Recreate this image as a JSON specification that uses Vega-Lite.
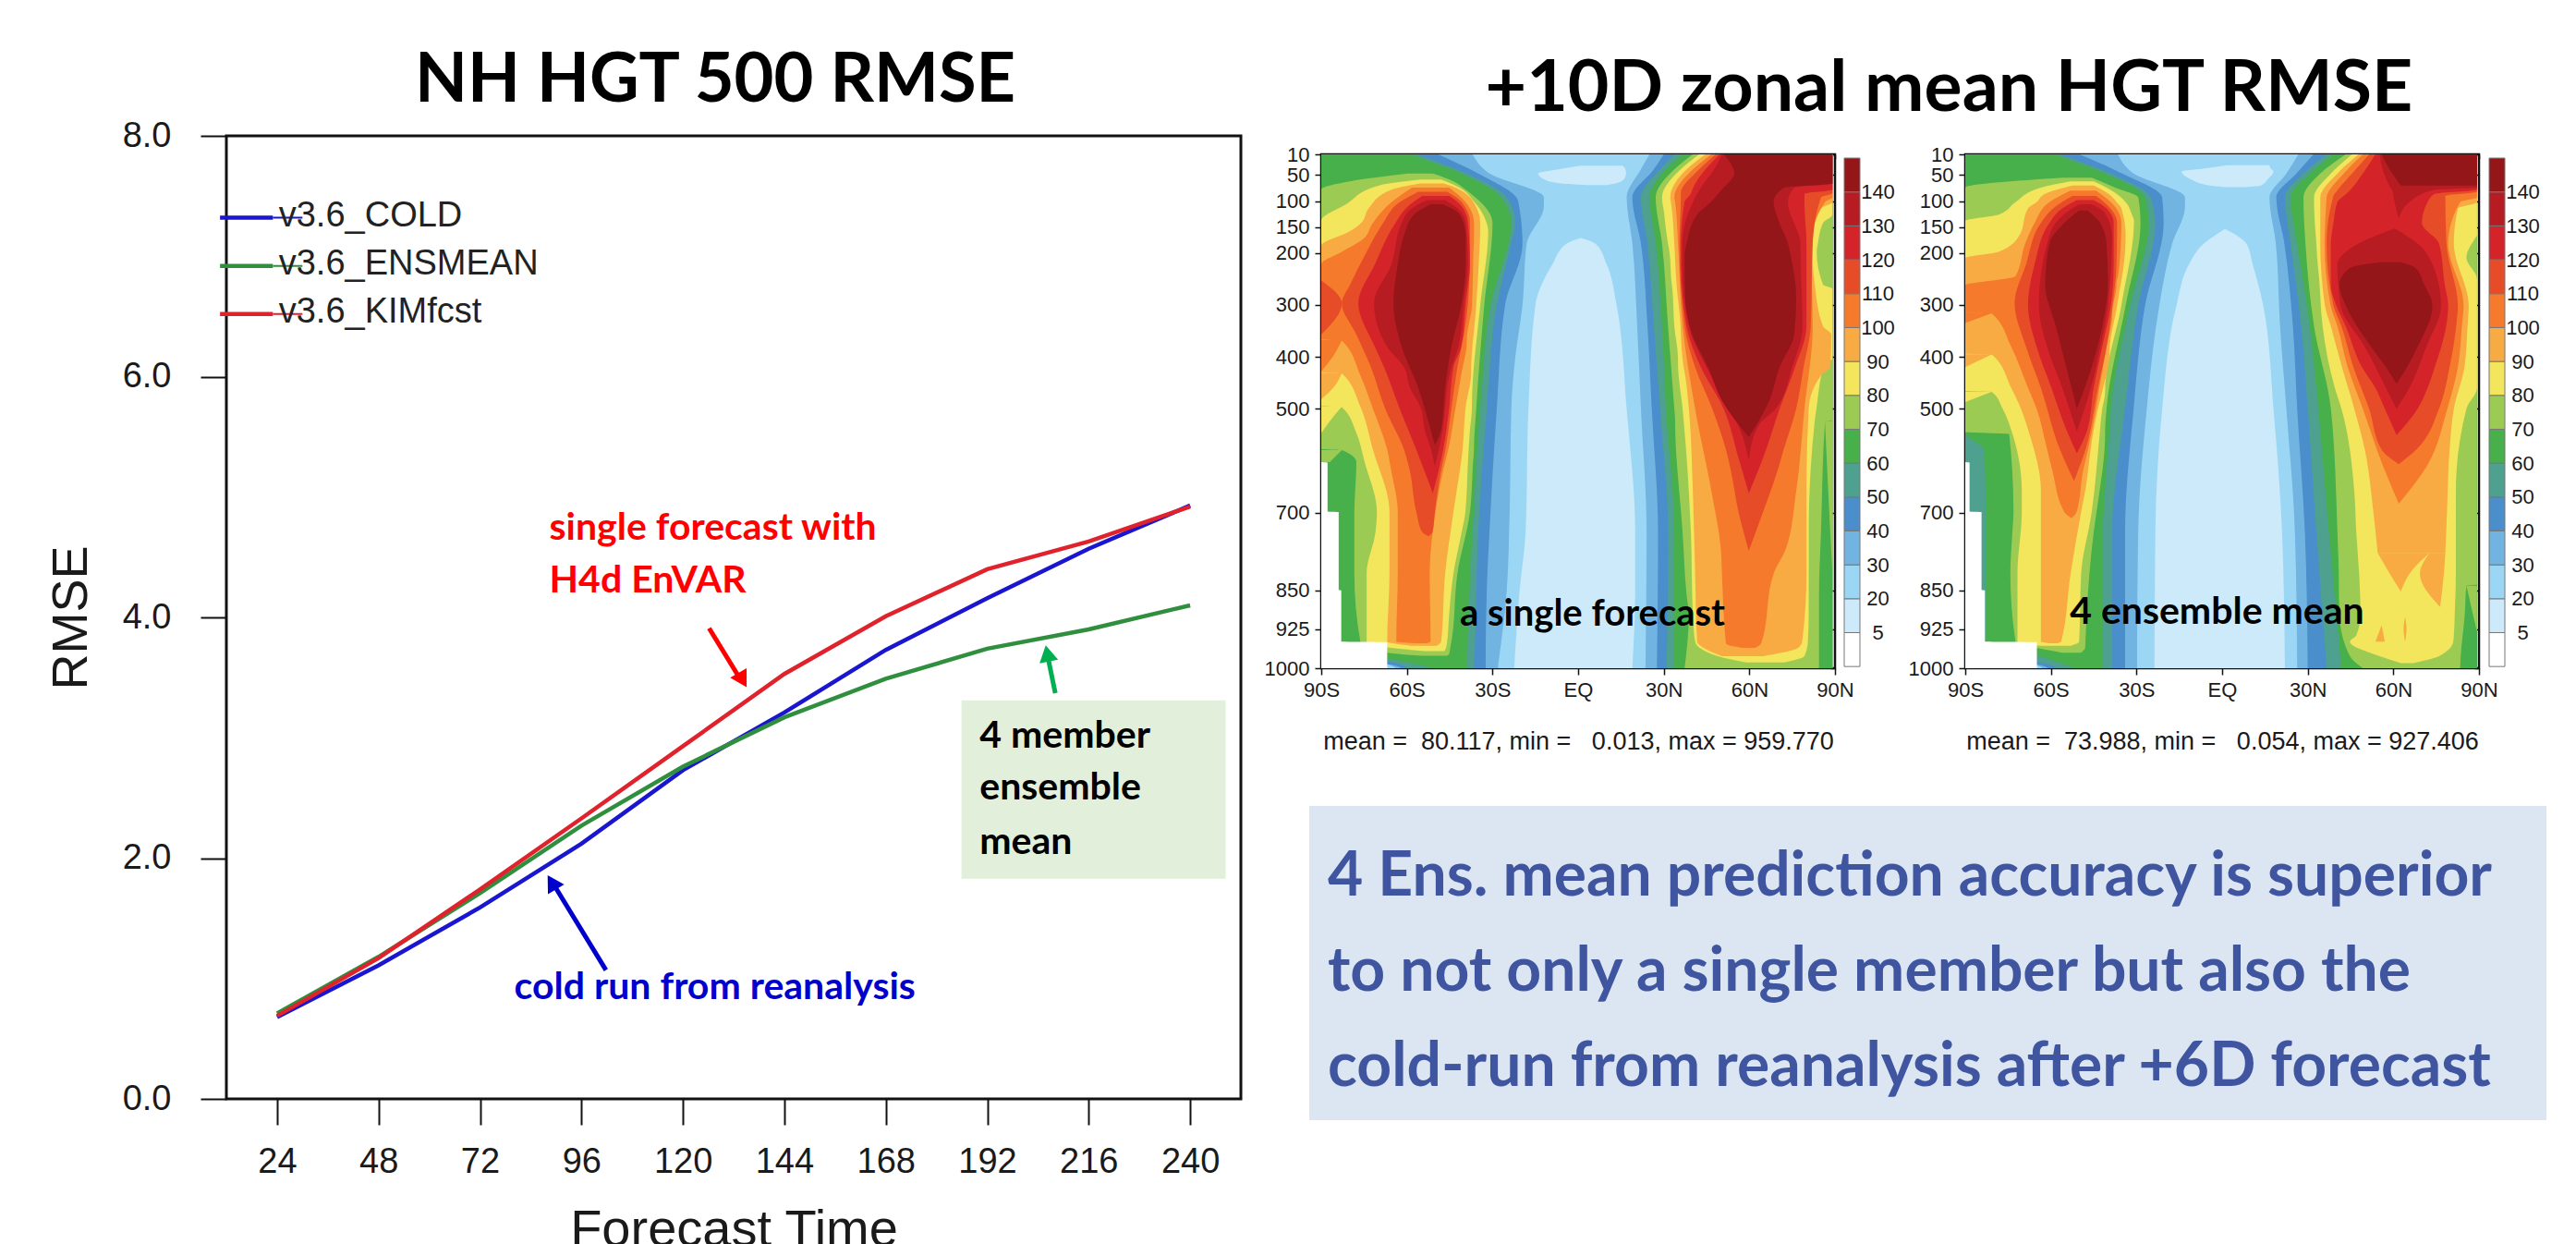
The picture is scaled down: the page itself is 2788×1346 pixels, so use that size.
{"$schema":"https://vega.github.io/schema/vega-lite/v6.json","autosize":{"type":"pad"},"padding":{"left":48,"top":49,"right":0,"bottom":0},"background":"white","config":{"view":{"stroke":null},"font":"Liberation Sans","axis":{"grid":false,"domain":false,"labelFlush":false,"labelOverlap":false,"labelColor":"#1a1a1a","tickColor":"#111","titleColor":"#1a1a1a","titleFontWeight":"normal"}},
"datasets":{
"rmse":[{"series":"v3.6_COLD","hour":24,"rmse":0.68},{"series":"v3.6_COLD","hour":48,"rmse":1.11},{"series":"v3.6_COLD","hour":72,"rmse":1.59},{"series":"v3.6_COLD","hour":96,"rmse":2.12},{"series":"v3.6_COLD","hour":120,"rmse":2.73},{"series":"v3.6_COLD","hour":144,"rmse":3.21},{"series":"v3.6_COLD","hour":168,"rmse":3.73},{"series":"v3.6_COLD","hour":192,"rmse":4.16},{"series":"v3.6_COLD","hour":216,"rmse":4.57},{"series":"v3.6_COLD","hour":240,"rmse":4.93},
{"series":"v3.6_ENSMEAN","hour":24,"rmse":0.71},{"series":"v3.6_ENSMEAN","hour":48,"rmse":1.18},{"series":"v3.6_ENSMEAN","hour":72,"rmse":1.71},{"series":"v3.6_ENSMEAN","hour":96,"rmse":2.27},{"series":"v3.6_ENSMEAN","hour":120,"rmse":2.76},{"series":"v3.6_ENSMEAN","hour":144,"rmse":3.17},{"series":"v3.6_ENSMEAN","hour":168,"rmse":3.49},{"series":"v3.6_ENSMEAN","hour":192,"rmse":3.74},{"series":"v3.6_ENSMEAN","hour":216,"rmse":3.9},{"series":"v3.6_ENSMEAN","hour":240,"rmse":4.1},
{"series":"v3.6_KIMfcst","hour":24,"rmse":0.69},{"series":"v3.6_KIMfcst","hour":48,"rmse":1.17},{"series":"v3.6_KIMfcst","hour":72,"rmse":1.74},{"series":"v3.6_KIMfcst","hour":96,"rmse":2.33},{"series":"v3.6_KIMfcst","hour":120,"rmse":2.93},{"series":"v3.6_KIMfcst","hour":144,"rmse":3.53},{"series":"v3.6_KIMfcst","hour":168,"rmse":4.01},{"series":"v3.6_KIMfcst","hour":192,"rmse":4.4},{"series":"v3.6_KIMfcst","hour":216,"rmse":4.63},{"series":"v3.6_KIMfcst","hour":240,"rmse":4.92}],
"legendRows":[{"series":"v3.6_COLD","hour":10.5,"hour2":23,"rmse":7.32},{"series":"v3.6_ENSMEAN","hour":10.5,"hour2":23,"rmse":6.92},{"series":"v3.6_KIMfcst","hour":10.5,"hour2":23,"rmse":6.52}],
"legendThin":[{"series":"v3.6_COLD","hour":23,"hour2":30,"rmse":7.32},{"series":"v3.6_ENSMEAN","hour":23,"hour2":30,"rmse":6.92},{"series":"v3.6_KIMfcst","hour":23,"hour2":30,"rmse":6.52}],
"legendText":[{"series":"v3.6_COLD","hour":24.4,"rmse":7.33,"label":"v3.6_COLD"},{"series":"v3.6_ENSMEAN","hour":24.4,"rmse":6.93,"label":"v3.6_ENSMEAN"},{"series":"v3.6_KIMfcst","hour":24.4,"rmse":6.53,"label":"v3.6_KIMfcst"}],
"arrows":[{"series":"kim note","hour":126.2,"rmse":3.91,"hour2":133,"rmse2":3.52,"tipHour":134.1,"tipRmse":3.48,"heading":150},{"series":"ensmean note","hour":208.1,"rmse":3.37,"hour2":206.4,"rmse2":3.66,"tipHour":206.2,"tipRmse":3.7,"heading":349},{"series":"cold note","hour":101.8,"rmse":1.07,"hour2":89.8,"rmse2":1.76,"tipHour":89,"tipRmse":1.8,"heading":329}],
"noteBox":[{"hour":185.9,"hour2":248.4,"rmse":3.31,"rmse2":1.83}],
"notes":[{"series":"kim note","hour":88.4,"rmse":4.74,"label":"single forecast with"},{"series":"kim note","hour":88.4,"rmse":4.3,"label":"H4d EnVAR"},{"series":"cold note","hour":80.1,"rmse":0.92,"label":"cold run from reanalysis"},{"series":"plain note","hour":190.2,"rmse":3.01,"label":"4 member"},{"series":"plain note","hour":190.2,"rmse":2.58,"label":"ensemble"},{"series":"plain note","hour":190.2,"rmse":2.13,"label":"mean"}],
"colorbar":[{"band":"0","lo":0,"hi":1},{"band":"5","lo":1,"hi":2},{"band":"20","lo":2,"hi":3},{"band":"30","lo":3,"hi":4},{"band":"40","lo":4,"hi":5},{"band":"50","lo":5,"hi":6},{"band":"60","lo":6,"hi":7},{"band":"70","lo":7,"hi":8},{"band":"80","lo":8,"hi":9},{"band":"90","lo":9,"hi":10},{"band":"100","lo":10,"hi":11},{"band":"110","lo":11,"hi":12},{"band":"120","lo":12,"hi":13},{"band":"130","lo":13,"hi":14},{"band":"140","lo":14,"hi":15}],
"summary":[{"line":1,"col":0,"label":"4 Ens. mean prediction accuracy is superior"},{"line":2,"col":0,"label":"to not only a single member but also the"},{"line":3,"col":0,"label":"cold-run from reanalysis after +6D forecast"}],
"singleLabel":[{"lat":5,"hpa":897,"label":"a single forecast"}],
"ensLabel":[{"lat":-1.8,"hpa":893,"label":"4 ensemble mean"}],
"tickAnchor":[{"west":0,"hpa":500}],
"single":[
{"band":"20","blob":"all","hpa":10,"west":-90,"east":89.1},{"band":"20","blob":"all","hpa":1000,"west":-90,"east":89.1},
{"band":"5","blob":"c","hpa":171,"west":1,"east":1},{"band":"5","blob":"c","hpa":182,"west":-4,"east":6},{"band":"5","blob":"c","hpa":222,"west":-9,"east":10},{"band":"5","blob":"c","hpa":301,"west":-15,"east":13.5},{"band":"5","blob":"c","hpa":500,"west":-17.4,"east":17},{"band":"5","blob":"c","hpa":738,"west":-18.4,"east":20},{"band":"5","blob":"c","hpa":850,"west":-20.5,"east":20},{"band":"5","blob":"c","hpa":1000,"west":-22.4,"east":19},
{"band":"5","blob":"t","hpa":32,"west":1,"east":15.6},{"band":"5","blob":"t","hpa":38,"west":-6,"east":16.5},{"band":"5","blob":"t","hpa":47,"west":-14,"east":16.8},{"band":"5","blob":"t","hpa":58,"west":-12,"east":16},{"band":"5","blob":"t","hpa":66,"west":-6,"east":13},{"band":"5","blob":"t","hpa":69,"west":3,"east":10},
{"band":"30","blob":"s","hpa":10,"west":-90,"east":-37},{"band":"30","blob":"s","hpa":47,"west":-90,"east":-31},{"band":"30","blob":"s","hpa":93,"west":-90,"east":-12},{"band":"30","blob":"s","hpa":110,"west":-90,"east":-12},{"band":"30","blob":"s","hpa":182,"west":-90,"east":-18},{"band":"30","blob":"s","hpa":301,"west":-90,"east":-19.5},{"band":"30","blob":"s","hpa":400,"west":-90,"east":-22},{"band":"30","blob":"s","hpa":500,"west":-90,"east":-23.4},{"band":"30","blob":"s","hpa":700,"west":-90,"east":-24},{"band":"30","blob":"s","hpa":850,"west":-90,"east":-25},{"band":"30","blob":"s","hpa":985,"west":-90,"east":-27.8},{"band":"30","blob":"s","hpa":993,"west":-67,"east":-28},{"band":"30","blob":"s","hpa":1000,"west":-64,"east":-28},
{"band":"30","blob":"n","hpa":10,"west":25,"east":89.1},{"band":"30","blob":"n","hpa":39,"west":22,"east":89.1},{"band":"30","blob":"n","hpa":93,"west":17,"east":89.1},{"band":"30","blob":"n","hpa":182,"west":19,"east":89.1},{"band":"30","blob":"n","hpa":341,"west":20.7,"east":89.1},{"band":"30","blob":"n","hpa":500,"west":22,"east":89.1},{"band":"30","blob":"n","hpa":738,"west":24,"east":89.1},{"band":"30","blob":"n","hpa":1000,"west":23.6,"east":89.1},
{"band":"40","blob":"s","hpa":10,"west":-90,"east":-49},{"band":"40","blob":"s","hpa":47,"west":-90,"east":-35},{"band":"40","blob":"s","hpa":100,"west":-90,"east":-21},{"band":"40","blob":"s","hpa":182,"west":-90,"east":-19.5},{"band":"40","blob":"s","hpa":301,"west":-90,"east":-25.6},{"band":"40","blob":"s","hpa":500,"west":-90,"east":-28.5},{"band":"40","blob":"s","hpa":700,"west":-90,"east":-30.7},{"band":"40","blob":"s","hpa":850,"west":-90,"east":-32},{"band":"40","blob":"s","hpa":985,"west":-90,"east":-32.4},{"band":"40","blob":"s","hpa":993,"west":-66,"east":-32.4},{"band":"40","blob":"s","hpa":1000,"west":-62,"east":-32.4},
{"band":"40","blob":"n","hpa":10,"west":30,"east":89.1},{"band":"40","blob":"n","hpa":39,"west":26.5,"east":89.1},{"band":"40","blob":"n","hpa":93,"west":19,"east":89.1},{"band":"40","blob":"n","hpa":182,"west":22,"east":89.1},{"band":"40","blob":"n","hpa":341,"west":24.3,"east":89.1},{"band":"40","blob":"n","hpa":500,"west":25.8,"east":89.1},{"band":"40","blob":"n","hpa":738,"west":28,"east":89.1},{"band":"40","blob":"n","hpa":1000,"west":27.6,"east":89.1},
{"band":"50","blob":"s","hpa":10,"west":-90,"east":-56.7},{"band":"50","blob":"s","hpa":47,"west":-90,"east":-39},{"band":"50","blob":"s","hpa":93,"west":-90,"east":-25},{"band":"50","blob":"s","hpa":142,"west":-90,"east":-22},{"band":"50","blob":"s","hpa":182,"west":-90,"east":-23.5},{"band":"50","blob":"s","hpa":301,"west":-90,"east":-28.5},{"band":"50","blob":"s","hpa":500,"west":-90,"east":-32},{"band":"50","blob":"s","hpa":738,"west":-90,"east":-35},{"band":"50","blob":"s","hpa":977,"west":-90,"east":-36.3},{"band":"50","blob":"s","hpa":989,"west":-65,"east":-36.4},{"band":"50","blob":"s","hpa":1000,"west":-60,"east":-36.5},
{"band":"50","blob":"n","hpa":10,"west":33.7,"east":89.1},{"band":"50","blob":"n","hpa":39,"west":28.7,"east":89.1},{"band":"50","blob":"n","hpa":93,"west":22,"east":89.1},{"band":"50","blob":"n","hpa":182,"west":24.3,"east":89.1},{"band":"50","blob":"n","hpa":341,"west":26.5,"east":89.1},{"band":"50","blob":"n","hpa":500,"west":28.7,"east":89.1},{"band":"50","blob":"n","hpa":738,"west":31.5,"east":89.1},{"band":"50","blob":"n","hpa":1000,"west":31,"east":89.1},
{"band":"60","blob":"s","hpa":10,"west":-90,"east":-59},{"band":"60","blob":"s","hpa":47,"west":-90,"east":-41},{"band":"60","blob":"s","hpa":93,"west":-90,"east":-27},{"band":"60","blob":"s","hpa":142,"west":-90,"east":-23.5},{"band":"60","blob":"s","hpa":301,"west":-90,"east":-30.7},{"band":"60","blob":"s","hpa":500,"west":-90,"east":-34.3},{"band":"60","blob":"s","hpa":738,"west":-90,"east":-37},{"band":"60","blob":"s","hpa":961,"west":-90,"east":-38.8},{"band":"60","blob":"s","hpa":985,"west":-63,"east":-38.9},{"band":"60","blob":"s","hpa":1000,"west":-51,"east":-39},
{"band":"60","blob":"n","hpa":10,"west":36.6,"east":89.1},{"band":"60","blob":"n","hpa":39,"west":30.8,"east":89.1},{"band":"60","blob":"n","hpa":93,"west":25,"east":89.1},{"band":"60","blob":"n","hpa":182,"west":27.2,"east":89.1},{"band":"60","blob":"n","hpa":341,"west":29.4,"east":89.1},{"band":"60","blob":"n","hpa":500,"west":30.8,"east":89.1},{"band":"60","blob":"n","hpa":738,"west":33.7,"east":89.1},{"band":"60","blob":"n","hpa":1000,"west":33.7,"east":89.1},
{"band":"70","blob":"s","hpa":47,"west":-59.6,"east":-50.9},{"band":"70","blob":"s","hpa":62,"west":-80,"east":-43.7},{"band":"70","blob":"s","hpa":78,"west":-90,"east":-39.4},{"band":"70","blob":"s","hpa":142,"west":-90,"east":-30},{"band":"70","blob":"s","hpa":301,"west":-90,"east":-32.9},{"band":"70","blob":"s","hpa":500,"west":-90,"east":-35.7},{"band":"70","blob":"s","hpa":578,"west":-90,"east":-36.5},{"band":"70","blob":"s","hpa":580,"west":-82.8,"east":-36.5},{"band":"70","blob":"s","hpa":603,"west":-77.7,"east":-36.8},{"band":"70","blob":"s","hpa":699,"west":-78.4,"east":-37.9},{"band":"70","blob":"s","hpa":818,"west":-78.4,"east":-42.3},{"band":"70","blob":"s","hpa":949,"west":-76.3,"east":-44.4},{"band":"70","blob":"s","hpa":961,"west":-73.4,"east":-44.8},{"band":"70","blob":"s","hpa":973,"west":-62.5,"east":-45.2},{"band":"70","blob":"s","hpa":976,"west":-55,"east":-46},
{"band":"70","blob":"e","hpa":580,"west":-90,"east":-82.8},{"band":"70","blob":"e","hpa":603,"west":-90,"east":-87},
{"band":"70","blob":"n","hpa":10,"west":40.2,"east":89.1},{"band":"70","blob":"n","hpa":39,"west":33.7,"east":89.1},{"band":"70","blob":"n","hpa":93,"west":27.2,"east":89.1},{"band":"70","blob":"n","hpa":182,"west":29.4,"east":89.1},{"band":"70","blob":"n","hpa":341,"west":31.5,"east":89.1},{"band":"70","blob":"n","hpa":500,"west":33.7,"east":89.1},{"band":"70","blob":"n","hpa":523,"west":34,"east":89.1},{"band":"70","blob":"n","hpa":525,"west":34,"east":86.5},{"band":"70","blob":"n","hpa":738,"west":36.6,"east":85.1},{"band":"70","blob":"n","hpa":858,"west":38,"east":84.4},{"band":"70","blob":"n","hpa":897,"west":38.8,"east":84.4},{"band":"70","blob":"n","hpa":1000,"west":37.3,"east":84.4},
{"band":"70","blob":"ne","hpa":524,"west":86.5,"east":89.1},{"band":"70","blob":"ne","hpa":700,"west":88,"east":89.1},{"band":"70","blob":"ne","hpa":818,"west":89.1,"east":89.1},
{"band":"80","blob":"s","hpa":58.5,"west":-55.3,"east":-48},{"band":"80","blob":"s","hpa":70,"west":-69.8,"east":-43},{"band":"80","blob":"s","hpa":106,"west":-81.3,"east":-35.7},{"band":"80","blob":"s","hpa":138,"west":-90,"east":-32.3},{"band":"80","blob":"s","hpa":158,"west":-90,"east":-31.5},{"band":"80","blob":"s","hpa":301,"west":-90,"east":-34.3},{"band":"80","blob":"s","hpa":495,"west":-90,"east":-37.2},{"band":"80","blob":"s","hpa":497,"west":-82.8,"east":-37.2},{"band":"80","blob":"s","hpa":547,"west":-77.7,"east":-38},{"band":"80","blob":"s","hpa":603,"west":-74.8,"east":-38.6},{"band":"80","blob":"s","hpa":699,"west":-70.5,"east":-39.5},{"band":"80","blob":"s","hpa":738,"west":-71,"east":-40.8},{"band":"80","blob":"s","hpa":818,"west":-74.1,"east":-43.7},{"band":"80","blob":"s","hpa":897,"west":-74.1,"east":-45.2},{"band":"80","blob":"s","hpa":949,"west":-74.1,"east":-45.9},{"band":"80","blob":"s","hpa":961,"west":-65.4,"east":-46.3},{"band":"80","blob":"s","hpa":967,"west":-53.8,"east":-46.8},
{"band":"80","blob":"e","hpa":496,"west":-90,"east":-82.8},{"band":"80","blob":"e","hpa":524,"west":-90,"east":-87},{"band":"80","blob":"e","hpa":547,"west":-90,"east":-90},
{"band":"80","blob":"n","hpa":10,"west":42.4,"east":89.1},{"band":"80","blob":"n","hpa":39,"west":35.9,"east":89.1},{"band":"80","blob":"n","hpa":93,"west":29.4,"east":89.1},{"band":"80","blob":"n","hpa":126,"west":30.2,"east":89.1},{"band":"80","blob":"n","hpa":142,"west":30.5,"east":85.8},{"band":"80","blob":"n","hpa":182,"west":31.5,"east":84},{"band":"80","blob":"n","hpa":198,"west":32,"east":83.6},{"band":"80","blob":"n","hpa":261,"west":32.8,"east":85.8},{"band":"80","blob":"n","hpa":269,"west":33,"east":89.1},{"band":"80","blob":"n","hpa":341,"west":33.7,"east":89.1},{"band":"80","blob":"n","hpa":404,"west":35,"east":89.1},{"band":"80","blob":"n","hpa":412,"west":35,"east":86.5},{"band":"80","blob":"n","hpa":500,"west":36.6,"east":83.5},{"band":"80","blob":"n","hpa":524,"west":37,"east":82.9},{"band":"80","blob":"n","hpa":738,"west":39.5,"east":80.8},{"band":"80","blob":"n","hpa":897,"west":40.2,"east":80.8},{"band":"80","blob":"n","hpa":949,"west":41,"east":80.5},{"band":"80","blob":"n","hpa":977,"west":48.9,"east":79.3},{"band":"80","blob":"n","hpa":989,"west":59,"east":72.1},
{"band":"90","blob":"s","hpa":66,"west":-55.3,"east":-47},{"band":"90","blob":"s","hpa":78,"west":-65.4,"east":-41.5},{"band":"90","blob":"s","hpa":114,"west":-73.4,"east":-35.5},{"band":"90","blob":"s","hpa":142,"west":-76,"east":-34.3},{"band":"90","blob":"s","hpa":158,"west":-79.9,"east":-34.3},{"band":"90","blob":"s","hpa":186,"west":-90,"east":-34.5},{"band":"90","blob":"s","hpa":301,"west":-90,"east":-35.7},{"band":"90","blob":"s","hpa":430,"west":-90,"east":-37.5},{"band":"90","blob":"s","hpa":432,"west":-82.8,"east":-37.5},{"band":"90","blob":"s","hpa":496,"west":-76.3,"east":-39.4},{"band":"90","blob":"s","hpa":579,"west":-71.9,"east":-40.5},{"band":"90","blob":"s","hpa":699,"west":-66.1,"east":-43.7},{"band":"90","blob":"s","hpa":818,"west":-66.1,"east":-46.6},{"band":"90","blob":"s","hpa":949,"west":-66.9,"east":-48},{"band":"90","blob":"s","hpa":957,"west":-58.2,"east":-49.5},
{"band":"90","blob":"e","hpa":431,"west":-90,"east":-82.8},{"band":"90","blob":"e","hpa":458,"west":-90,"east":-85.5},{"band":"90","blob":"e","hpa":482,"west":-90,"east":-90},
{"band":"90","blob":"n","hpa":10,"west":44.6,"east":89.1},{"band":"90","blob":"n","hpa":39,"west":38,"east":89.1},{"band":"90","blob":"n","hpa":93,"west":32.3,"east":89.1},{"band":"90","blob":"n","hpa":102,"west":32.5,"east":89.1},{"band":"90","blob":"n","hpa":114,"west":32.8,"east":85.1},{"band":"90","blob":"n","hpa":182,"west":33.7,"east":81.9},{"band":"90","blob":"n","hpa":261,"west":34.5,"east":82.9},{"band":"90","blob":"n","hpa":341,"west":35.9,"east":85.8},{"band":"90","blob":"n","hpa":357,"west":36,"east":88.7},{"band":"90","blob":"n","hpa":420,"west":37,"east":88.3},{"band":"90","blob":"n","hpa":436,"west":37.5,"east":85.1},{"band":"90","blob":"n","hpa":500,"west":38.8,"east":80.8},{"band":"90","blob":"n","hpa":659,"west":40.2,"east":80},{"band":"90","blob":"n","hpa":818,"west":41,"east":80},{"band":"90","blob":"n","hpa":949,"west":41.7,"east":78.5},{"band":"90","blob":"n","hpa":961,"west":44,"east":77.1},{"band":"90","blob":"n","hpa":977,"west":50.4,"east":64.8},
{"band":"100","blob":"s","hpa":74,"west":-58.2,"east":-45.2},{"band":"100","blob":"s","hpa":102,"west":-65.4,"east":-39.4},{"band":"100","blob":"s","hpa":142,"west":-71.9,"east":-36.5},{"band":"100","blob":"s","hpa":174,"west":-75.5,"east":-36.5},{"band":"100","blob":"s","hpa":198,"west":-82.8,"east":-36.7},{"band":"100","blob":"s","hpa":222,"west":-90,"east":-36.8},{"band":"100","blob":"s","hpa":301,"west":-90,"east":-37.2},{"band":"100","blob":"s","hpa":367,"west":-90,"east":-39},{"band":"100","blob":"s","hpa":369,"west":-82.8,"east":-39},{"band":"100","blob":"s","hpa":436,"west":-76.3,"east":-41},{"band":"100","blob":"s","hpa":500,"west":-71.9,"east":-43},{"band":"100","blob":"s","hpa":579,"west":-66.9,"east":-45.5},{"band":"100","blob":"s","hpa":619,"west":-65.5,"east":-47.3},{"band":"100","blob":"s","hpa":699,"west":-63.2,"east":-50},{"band":"100","blob":"s","hpa":818,"west":-63.2,"east":-52},{"band":"100","blob":"s","hpa":949,"west":-63.7,"east":-51.7},{"band":"100","blob":"s","hpa":952,"west":-57,"east":-53},
{"band":"100","blob":"e","hpa":368,"west":-90,"east":-82.8},{"band":"100","blob":"e","hpa":396,"west":-90,"east":-85.5},{"band":"100","blob":"e","hpa":428,"west":-90,"east":-90},
{"band":"100","blob":"n","hpa":10,"west":46.7,"east":89.1},{"band":"100","blob":"n","hpa":39,"west":40.2,"east":89.1},{"band":"100","blob":"n","hpa":93,"west":33.7,"east":89.1},{"band":"100","blob":"n","hpa":102,"west":34,"east":86.5},{"band":"100","blob":"n","hpa":182,"west":35,"east":81.5},{"band":"100","blob":"n","hpa":341,"west":36.6,"east":82.2},{"band":"100","blob":"n","hpa":500,"west":41,"east":79.3},{"band":"100","blob":"n","hpa":659,"west":46.7,"east":76.4},{"band":"100","blob":"n","hpa":770,"west":50,"east":72.8},{"band":"100","blob":"n","hpa":818,"west":50.4,"east":68.5},{"band":"100","blob":"n","hpa":953,"west":51.8,"east":64.1},{"band":"100","blob":"n","hpa":961,"west":57.6,"east":62},
{"band":"110","blob":"s","hpa":82,"west":-56,"east":-45.9},{"band":"110","blob":"s","hpa":102,"west":-62.5,"east":-40.8},{"band":"110","blob":"s","hpa":142,"west":-68.3,"east":-37.9},{"band":"110","blob":"s","hpa":198,"west":-74.1,"east":-37.9},{"band":"110","blob":"s","hpa":261,"west":-79.9,"east":-38.2},{"band":"110","blob":"s","hpa":297,"west":-82.8,"east":-38.6},{"band":"110","blob":"s","hpa":357,"west":-77.7,"east":-40},{"band":"110","blob":"s","hpa":420,"west":-72.6,"east":-42.3},{"band":"110","blob":"s","hpa":500,"west":-67.6,"east":-44.4},{"band":"110","blob":"s","hpa":579,"west":-61,"east":-46.5},{"band":"110","blob":"s","hpa":619,"west":-59,"east":-48},{"band":"110","blob":"s","hpa":699,"west":-56.7,"east":-50.2},{"band":"110","blob":"s","hpa":738,"west":-54.6,"east":-51},{"band":"110","blob":"s","hpa":746,"west":-52.4,"east":-52.4},
{"band":"110","blob":"e","hpa":253,"west":-90,"east":-90},{"band":"110","blob":"e","hpa":297,"west":-90,"east":-82.8},{"band":"110","blob":"e","hpa":357,"west":-90,"east":-90},
{"band":"110","blob":"n","hpa":10,"west":48.2,"east":89.1},{"band":"110","blob":"n","hpa":39,"west":42.4,"east":89.1},{"band":"110","blob":"n","hpa":85,"west":36,"east":89.1},{"band":"110","blob":"n","hpa":93,"west":36,"east":85.1},{"band":"110","blob":"n","hpa":182,"west":35.5,"east":82.2},{"band":"110","blob":"n","hpa":341,"west":37.3,"east":81.5},{"band":"110","blob":"n","hpa":420,"west":41,"east":79},{"band":"110","blob":"n","hpa":500,"west":47,"east":76.4},{"band":"110","blob":"n","hpa":579,"west":51.8,"east":72},{"band":"110","blob":"n","hpa":619,"west":53.5,"east":69.9},{"band":"110","blob":"n","hpa":699,"west":56.2,"east":64.8},{"band":"110","blob":"n","hpa":774,"west":59.8,"east":59.8},
{"band":"120","blob":"s","hpa":90,"west":-54.6,"east":-45.2},{"band":"120","blob":"s","hpa":110,"west":-59.6,"east":-40.8},{"band":"120","blob":"s","hpa":142,"west":-64,"east":-38.6},{"band":"120","blob":"s","hpa":222,"west":-71.2,"east":-37.9},{"band":"120","blob":"s","hpa":297,"west":-77,"east":-39.4},{"band":"120","blob":"s","hpa":381,"west":-71.2,"east":-41},{"band":"120","blob":"s","hpa":420,"west":-68,"east":-43.7},{"band":"120","blob":"s","hpa":500,"west":-62.5,"east":-45.2},{"band":"120","blob":"s","hpa":579,"west":-56.7,"east":-47.3},{"band":"120","blob":"s","hpa":663,"west":-50.9,"east":-50.9},
{"band":"120","blob":"n","hpa":10,"west":49.6,"east":89.1},{"band":"120","blob":"n","hpa":39,"west":44.6,"east":89.1},{"band":"120","blob":"n","hpa":78,"west":40,"east":89.1},{"band":"120","blob":"n","hpa":86,"west":39.5,"east":79.3},{"band":"120","blob":"n","hpa":102,"west":37.3,"east":79.3},{"band":"120","blob":"n","hpa":182,"west":36,"east":80},{"band":"120","blob":"n","hpa":222,"west":36,"east":80},{"band":"120","blob":"n","hpa":341,"west":38,"east":80},{"band":"120","blob":"n","hpa":420,"west":43,"east":76},{"band":"120","blob":"n","hpa":500,"west":51,"east":70.6},{"band":"120","blob":"n","hpa":595,"west":56.2,"east":64.8},{"band":"120","blob":"n","hpa":663,"west":59.8,"east":59.8},
{"band":"130","blob":"s","hpa":98,"west":-53.1,"east":-46.6},{"band":"130","blob":"s","hpa":114,"west":-58.2,"east":-42.3},{"band":"130","blob":"s","hpa":142,"west":-61.8,"east":-39.4},{"band":"130","blob":"s","hpa":222,"west":-65.4,"east":-38.6},{"band":"130","blob":"s","hpa":297,"west":-71.5,"east":-40.1},{"band":"130","blob":"s","hpa":381,"west":-66.9,"east":-42},{"band":"130","blob":"s","hpa":420,"west":-61,"east":-44.4},{"band":"130","blob":"s","hpa":460,"west":-58.9,"east":-45.9},{"band":"130","blob":"s","hpa":500,"west":-55,"east":-46.6},{"band":"130","blob":"s","hpa":540,"west":-53.8,"east":-47.5},{"band":"130","blob":"s","hpa":579,"west":-51.5,"east":-48.8},{"band":"130","blob":"s","hpa":611,"west":-50.2,"east":-50.2},
{"band":"130","blob":"n","hpa":10,"west":50.4,"east":89.1},{"band":"130","blob":"n","hpa":47,"west":46.7,"east":89.1},{"band":"130","blob":"n","hpa":66,"west":44,"east":89.1},{"band":"130","blob":"n","hpa":74,"west":43,"east":75.7},{"band":"130","blob":"n","hpa":102,"west":40.2,"east":73.5},{"band":"130","blob":"n","hpa":182,"west":36.5,"east":77.9},{"band":"130","blob":"n","hpa":222,"west":36.5,"east":78},{"band":"130","blob":"n","hpa":341,"west":38.8,"east":78.6},{"band":"130","blob":"n","hpa":420,"west":45,"east":75},{"band":"130","blob":"n","hpa":500,"west":53,"east":69.2},{"band":"130","blob":"n","hpa":531,"west":56,"east":63.4},{"band":"130","blob":"n","hpa":599,"west":59.8,"east":59.8},
{"band":"140","blob":"s","hpa":106,"west":-51.7,"east":-47.3},{"band":"140","blob":"s","hpa":126,"west":-57.5,"east":-41.5},{"band":"140","blob":"s","hpa":166,"west":-61,"east":-39.4},{"band":"140","blob":"s","hpa":222,"west":-63.2,"east":-39.4},{"band":"140","blob":"s","hpa":297,"west":-64.7,"east":-40.8},{"band":"140","blob":"s","hpa":381,"west":-61.8,"east":-44.4},{"band":"140","blob":"s","hpa":460,"west":-56,"east":-46.6},{"band":"140","blob":"s","hpa":540,"west":-51.7,"east":-48},{"band":"140","blob":"s","hpa":570,"west":-50.2,"east":-50.2},
{"band":"140","blob":"n","hpa":10,"west":51.1,"east":89.1},{"band":"140","blob":"n","hpa":47,"west":54.7,"east":89.1},{"band":"140","blob":"n","hpa":66,"west":52.5,"east":89.1},{"band":"140","blob":"n","hpa":74,"west":51,"east":72.1},{"band":"140","blob":"n","hpa":102,"west":46.5,"east":68.5},{"band":"140","blob":"n","hpa":126,"west":41.7,"east":69.5},{"band":"140","blob":"n","hpa":182,"west":38,"east":73.5},{"band":"140","blob":"n","hpa":206,"west":37.3,"east":74.5},{"band":"140","blob":"n","hpa":285,"west":37.5,"east":76.4},{"band":"140","blob":"n","hpa":357,"west":40,"east":75.7},{"band":"140","blob":"n","hpa":420,"west":45.5,"east":70.6},{"band":"140","blob":"n","hpa":484,"west":50.4,"east":67},{"band":"140","blob":"n","hpa":555,"west":59.8,"east":59.8},
{"band":"0","blob":"m","hpa":603,"west":-90,"east":-90},{"band":"0","blob":"m","hpa":604,"west":-90,"east":-87.8},{"band":"0","blob":"m","hpa":698,"west":-90,"east":-87.8},{"band":"0","blob":"m","hpa":699,"west":-90,"east":-83.9},{"band":"0","blob":"m","hpa":849,"west":-90,"east":-83.9},{"band":"0","blob":"m","hpa":850,"west":-90,"east":-83},{"band":"0","blob":"m","hpa":949,"west":-90,"east":-83},{"band":"0","blob":"m","hpa":950,"west":-90,"east":-66.9},{"band":"0","blob":"m","hpa":1000,"west":-90,"east":-66.9}
],
"ens":[
{"band":"20","blob":"all","hpa":10,"west":-90,"east":89.3},{"band":"20","blob":"all","hpa":1000,"west":-90,"east":89.3},
{"band":"5","blob":"c","hpa":154,"west":1,"east":1},{"band":"5","blob":"c","hpa":182,"west":-6.4,"east":8.5},{"band":"5","blob":"c","hpa":222,"west":-11.6,"east":10.7},{"band":"5","blob":"c","hpa":301,"west":-16,"east":14.4},{"band":"5","blob":"c","hpa":500,"west":-21,"east":18},{"band":"5","blob":"c","hpa":738,"west":-23.4,"east":21},{"band":"5","blob":"c","hpa":1000,"west":-23.7,"east":22},
{"band":"5","blob":"t","hpa":31,"west":1.8,"east":16.6},{"band":"5","blob":"t","hpa":37,"west":-6,"east":17},{"band":"5","blob":"t","hpa":43,"west":-14.2,"east":18},{"band":"5","blob":"t","hpa":58,"west":-11,"east":16},{"band":"5","blob":"t","hpa":70,"west":-4.2,"east":13.6},{"band":"5","blob":"t","hpa":73,"west":1,"east":8},
{"band":"30","blob":"s","hpa":10,"west":-90,"east":-36.5},{"band":"30","blob":"s","hpa":47,"west":-90,"east":-31},{"band":"30","blob":"s","hpa":93,"west":-90,"east":-13},{"band":"30","blob":"s","hpa":110,"west":-90,"east":-13},{"band":"30","blob":"s","hpa":182,"west":-90,"east":-17.5},{"band":"30","blob":"s","hpa":301,"west":-90,"east":-22},{"band":"30","blob":"s","hpa":500,"west":-90,"east":-26.4},{"band":"30","blob":"s","hpa":738,"west":-90,"east":-29.4},{"band":"30","blob":"s","hpa":985,"west":-90,"east":-29.8},{"band":"30","blob":"s","hpa":993,"west":-66,"east":-29.8},{"band":"30","blob":"s","hpa":1000,"west":-63,"east":-29.8},
{"band":"30","blob":"n","hpa":10,"west":26.7,"east":89.3},{"band":"30","blob":"n","hpa":47,"west":22.5,"east":89.3},{"band":"30","blob":"n","hpa":93,"west":16.6,"east":89.3},{"band":"30","blob":"n","hpa":182,"west":18.8,"east":89.3},{"band":"30","blob":"n","hpa":341,"west":20.3,"east":89.3},{"band":"30","blob":"n","hpa":500,"west":22.5,"east":89.3},{"band":"30","blob":"n","hpa":738,"west":25.5,"east":89.3},{"band":"30","blob":"n","hpa":1000,"west":26.3,"east":89.3},
{"band":"40","blob":"s","hpa":10,"west":-90,"east":-50},{"band":"40","blob":"s","hpa":47,"west":-90,"east":-35},{"band":"40","blob":"s","hpa":93,"west":-90,"east":-21},{"band":"40","blob":"s","hpa":142,"west":-90,"east":-20.5},{"band":"40","blob":"s","hpa":301,"west":-90,"east":-27},{"band":"40","blob":"s","hpa":500,"west":-90,"east":-31},{"band":"40","blob":"s","hpa":738,"west":-90,"east":-34},{"band":"40","blob":"s","hpa":985,"west":-90,"east":-34},{"band":"40","blob":"s","hpa":993,"west":-65,"east":-34},{"band":"40","blob":"s","hpa":1000,"west":-61,"east":-34},
{"band":"40","blob":"n","hpa":10,"west":32,"east":89.3},{"band":"40","blob":"n","hpa":47,"west":26,"east":89.3},{"band":"40","blob":"n","hpa":93,"west":19,"east":89.3},{"band":"40","blob":"n","hpa":182,"west":21.8,"east":89.3},{"band":"40","blob":"n","hpa":341,"west":24.8,"east":89.3},{"band":"40","blob":"n","hpa":500,"west":26.3,"east":89.3},{"band":"40","blob":"n","hpa":738,"west":29,"east":89.3},{"band":"40","blob":"n","hpa":1000,"west":30,"east":89.3},
{"band":"50","blob":"s","hpa":10,"west":-90,"east":-57},{"band":"50","blob":"s","hpa":47,"west":-90,"east":-39},{"band":"50","blob":"s","hpa":93,"west":-90,"east":-25},{"band":"50","blob":"s","hpa":142,"west":-90,"east":-23.4},{"band":"50","blob":"s","hpa":301,"west":-90,"east":-29.4},{"band":"50","blob":"s","hpa":500,"west":-90,"east":-34},{"band":"50","blob":"s","hpa":738,"west":-90,"east":-38.5},{"band":"50","blob":"s","hpa":977,"west":-90,"east":-38.5},{"band":"50","blob":"s","hpa":989,"west":-64,"east":-38.5},{"band":"50","blob":"s","hpa":1000,"west":-58,"east":-38.5},
{"band":"50","blob":"n","hpa":10,"west":36.6,"east":89.3},{"band":"50","blob":"n","hpa":47,"west":28.5,"east":89.3},{"band":"50","blob":"n","hpa":93,"west":22,"east":89.3},{"band":"50","blob":"n","hpa":182,"west":24,"east":89.3},{"band":"50","blob":"n","hpa":341,"west":27.7,"east":89.3},{"band":"50","blob":"n","hpa":500,"west":30,"east":89.3},{"band":"50","blob":"n","hpa":738,"west":33,"east":89.3},{"band":"50","blob":"n","hpa":1000,"west":36.6,"east":89.3},
{"band":"60","blob":"s","hpa":10,"west":-90,"east":-59},{"band":"60","blob":"s","hpa":47,"west":-90,"east":-41},{"band":"60","blob":"s","hpa":93,"west":-90,"east":-27},{"band":"60","blob":"s","hpa":142,"west":-90,"east":-25.7},{"band":"60","blob":"s","hpa":301,"west":-90,"east":-32.3},{"band":"60","blob":"s","hpa":500,"west":-90,"east":-39},{"band":"60","blob":"s","hpa":547,"west":-90,"east":-39.5},{"band":"60","blob":"s","hpa":579,"west":-83.4,"east":-40},{"band":"60","blob":"s","hpa":699,"west":-82.8,"east":-41.5},{"band":"60","blob":"s","hpa":738,"west":-82.8,"east":-42},{"band":"60","blob":"s","hpa":949,"west":-82.8,"east":-42},{"band":"60","blob":"s","hpa":977,"west":-63.5,"east":-42},{"band":"60","blob":"s","hpa":1000,"west":-51.6,"east":-42},
{"band":"60","blob":"n","hpa":10,"west":38.9,"east":89.3},{"band":"60","blob":"n","hpa":47,"west":30.7,"east":89.3},{"band":"60","blob":"n","hpa":93,"west":24,"east":89.3},{"band":"60","blob":"n","hpa":182,"west":26.3,"east":89.3},{"band":"60","blob":"n","hpa":341,"west":30.7,"east":89.3},{"band":"60","blob":"n","hpa":500,"west":33.7,"east":89.3},{"band":"60","blob":"n","hpa":738,"west":37.4,"east":89.3},{"band":"60","blob":"n","hpa":1000,"west":41.8,"east":89.3},
{"band":"70","blob":"s","hpa":55,"west":-56,"east":-45.7},{"band":"70","blob":"s","hpa":74,"west":-90,"east":-37.5},{"band":"70","blob":"s","hpa":93,"west":-90,"east":-29.4},{"band":"70","blob":"s","hpa":142,"west":-90,"east":-28.6},{"band":"70","blob":"s","hpa":301,"west":-90,"east":-33.8},{"band":"70","blob":"s","hpa":500,"west":-90,"east":-40.5},{"band":"70","blob":"s","hpa":545,"west":-90,"east":-41},{"band":"70","blob":"s","hpa":549,"west":-74.6,"east":-41},{"band":"70","blob":"s","hpa":699,"west":-73.1,"east":-44},{"band":"70","blob":"s","hpa":738,"west":-73.5,"east":-45},{"band":"70","blob":"s","hpa":818,"west":-74.2,"east":-46.5},{"band":"70","blob":"s","hpa":949,"west":-72.4,"east":-47.9},{"band":"70","blob":"s","hpa":961,"west":-65,"east":-48},{"band":"70","blob":"s","hpa":970,"west":-56,"east":-49.4},
{"band":"70","blob":"n","hpa":10,"west":43.3,"east":89.3},{"band":"70","blob":"n","hpa":47,"west":34.4,"east":89.3},{"band":"70","blob":"n","hpa":93,"west":28.5,"east":89.3},{"band":"70","blob":"n","hpa":182,"west":29.2,"east":89.3},{"band":"70","blob":"n","hpa":341,"west":32.2,"east":89.3},{"band":"70","blob":"n","hpa":500,"west":38.1,"east":89.3},{"band":"70","blob":"n","hpa":738,"west":40.4,"east":89.3},{"band":"70","blob":"n","hpa":839,"west":40.9,"east":89.3},{"band":"70","blob":"n","hpa":841,"west":40.9,"east":85.6},{"band":"70","blob":"n","hpa":897,"west":41.1,"east":85},{"band":"70","blob":"n","hpa":977,"west":44.8,"east":83.6},{"band":"70","blob":"n","hpa":1000,"west":49.3,"east":83.4},
{"band":"70","blob":"ne","hpa":841,"west":85.6,"east":89.3},{"band":"70","blob":"ne","hpa":930,"west":89.3,"east":89.3},
{"band":"80","blob":"s","hpa":62,"west":-53.1,"east":-45},{"band":"80","blob":"s","hpa":74,"west":-63.5,"east":-40.5},{"band":"80","blob":"s","hpa":102,"west":-72.4,"east":-33.8},{"band":"80","blob":"s","hpa":126,"west":-78.3,"east":-31.6},{"band":"80","blob":"s","hpa":138,"west":-90,"east":-30.9},{"band":"80","blob":"s","hpa":301,"west":-90,"east":-35.3},{"band":"80","blob":"s","hpa":466,"west":-90,"east":-41},{"band":"80","blob":"s","hpa":468,"west":-80.6,"east":-41},{"band":"80","blob":"s","hpa":500,"west":-76.9,"east":-42},{"band":"80","blob":"s","hpa":555,"west":-73.1,"east":-43},{"band":"80","blob":"s","hpa":659,"west":-70.2,"east":-44.8},{"band":"80","blob":"s","hpa":699,"west":-70.2,"east":-45.7},{"band":"80","blob":"s","hpa":818,"west":-71.7,"east":-49.4},{"band":"80","blob":"s","hpa":949,"west":-71.7,"east":-50.1},{"band":"80","blob":"s","hpa":957,"west":-63.5,"east":-53},
{"band":"80","blob":"e","hpa":467,"west":-90,"east":-80.6},{"band":"80","blob":"e","hpa":487,"west":-90,"east":-90},
{"band":"80","blob":"n","hpa":10,"west":45.5,"east":89.3},{"band":"80","blob":"n","hpa":47,"west":38.1,"east":89.3},{"band":"80","blob":"n","hpa":93,"west":32.2,"east":89.3},{"band":"80","blob":"n","hpa":166,"west":32.8,"east":89.3},{"band":"80","blob":"n","hpa":172,"west":32.9,"east":88.6},{"band":"80","blob":"n","hpa":209,"west":33.3,"east":85.6},{"band":"80","blob":"n","hpa":250,"west":34,"east":89.3},{"band":"80","blob":"n","hpa":341,"west":35.2,"east":89.3},{"band":"80","blob":"n","hpa":460,"west":39.5,"east":89.3},{"band":"80","blob":"n","hpa":500,"west":41.8,"east":85.6},{"band":"80","blob":"n","hpa":659,"west":46.3,"east":81.9},{"band":"80","blob":"n","hpa":738,"west":47,"east":81.9},{"band":"80","blob":"n","hpa":818,"west":48,"east":81.9},{"band":"80","blob":"n","hpa":897,"west":48.5,"east":81.5},{"band":"80","blob":"n","hpa":937,"west":47,"east":81.2},{"band":"80","blob":"n","hpa":949,"west":44.8,"east":81},{"band":"80","blob":"n","hpa":977,"west":55.2,"east":76},{"band":"80","blob":"n","hpa":990,"west":62.6,"east":67},
{"band":"90","blob":"s","hpa":70,"west":-52.4,"east":-45},{"band":"90","blob":"s","hpa":86,"west":-62,"east":-39.8},{"band":"90","blob":"s","hpa":102,"west":-65,"east":-37},{"band":"90","blob":"s","hpa":114,"west":-68,"east":-35.3},{"band":"90","blob":"s","hpa":166,"west":-71,"east":-33.8},{"band":"90","blob":"s","hpa":198,"west":-78.3,"east":-34},{"band":"90","blob":"s","hpa":210,"west":-90,"east":-34.2},{"band":"90","blob":"s","hpa":301,"west":-90,"east":-36.8},{"band":"90","blob":"s","hpa":394,"west":-90,"east":-39.5},{"band":"90","blob":"s","hpa":396,"west":-80.6,"east":-39.5},{"band":"90","blob":"s","hpa":460,"west":-73.9,"east":-41.7},{"band":"90","blob":"s","hpa":500,"west":-70.5,"east":-43.5},{"band":"90","blob":"s","hpa":540,"west":-68,"east":-45},{"band":"90","blob":"s","hpa":659,"west":-63.5,"east":-48},{"band":"90","blob":"s","hpa":699,"west":-63.5,"east":-49.4},{"band":"90","blob":"s","hpa":818,"west":-63.5,"east":-53.1},{"band":"90","blob":"s","hpa":949,"west":-63.5,"east":-56.4},{"band":"90","blob":"s","hpa":952,"west":-60.5,"east":-57.6},
{"band":"90","blob":"e","hpa":395,"west":-90,"east":-80.6},{"band":"90","blob":"e","hpa":420,"west":-90,"east":-90},
{"band":"90","blob":"n","hpa":10,"west":47.8,"east":89.3},{"band":"90","blob":"n","hpa":47,"west":40.4,"east":89.3},{"band":"90","blob":"n","hpa":93,"west":34.4,"east":89.3},{"band":"90","blob":"n","hpa":102,"west":34.4,"east":89.3},{"band":"90","blob":"n","hpa":114,"west":34.4,"east":82.6},{"band":"90","blob":"n","hpa":182,"west":34.4,"east":81.2},{"band":"90","blob":"n","hpa":301,"west":36,"east":86.4},{"band":"90","blob":"n","hpa":341,"west":38.1,"east":86},{"band":"90","blob":"n","hpa":420,"west":42,"east":84.9},{"band":"90","blob":"n","hpa":500,"west":46.3,"east":81.2},{"band":"90","blob":"n","hpa":579,"west":50,"east":79.7},{"band":"90","blob":"n","hpa":699,"west":53,"east":78.8},{"band":"90","blob":"n","hpa":778,"west":54.5,"east":78.2},
{"band":"90","blob":"a","hpa":778,"west":54.5,"east":72.7},{"band":"90","blob":"a","hpa":813,"west":58.2,"east":66.3},{"band":"90","blob":"a","hpa":852,"west":62.6,"east":62.6},
{"band":"90","blob":"b","hpa":778,"west":72.7,"east":78.2},{"band":"90","blob":"b","hpa":818,"west":69.3,"east":77.7},{"band":"90","blob":"b","hpa":882,"west":76.4,"east":76.4},
{"band":"90","blob":"c","hpa":901,"west":64.1,"east":64.1},{"band":"90","blob":"c","hpa":925,"west":63.6,"east":64.6},{"band":"90","blob":"c","hpa":949,"west":64.1,"east":64.1},
{"band":"90","blob":"d","hpa":917,"west":55.9,"east":55.9},{"band":"90","blob":"d","hpa":949,"west":53.7,"east":57},
{"band":"100","blob":"s","hpa":80,"west":-53.1,"east":-44.2},{"band":"100","blob":"s","hpa":102,"west":-60.5,"east":-39},{"band":"100","blob":"s","hpa":142,"west":-65.7,"east":-35.3},{"band":"100","blob":"s","hpa":182,"west":-69,"east":-35.5},{"band":"100","blob":"s","hpa":245,"west":-72.4,"east":-36.5},{"band":"100","blob":"s","hpa":257,"west":-85.8,"east":-37},{"band":"100","blob":"s","hpa":261,"west":-90,"east":-37},{"band":"100","blob":"s","hpa":316,"west":-90,"east":-38.5},{"band":"100","blob":"s","hpa":317,"west":-80.6,"east":-38.5},{"band":"100","blob":"s","hpa":381,"west":-73.9,"east":-40.5},{"band":"100","blob":"s","hpa":460,"west":-68,"east":-43},{"band":"100","blob":"s","hpa":500,"west":-65,"east":-44.2},{"band":"100","blob":"s","hpa":579,"west":-61.3,"east":-47},{"band":"100","blob":"s","hpa":619,"west":-59.5,"east":-48.7},{"band":"100","blob":"s","hpa":699,"west":-55.3,"east":-51},{"band":"100","blob":"s","hpa":711,"west":-52.8,"east":-52.8},
{"band":"100","blob":"e","hpa":316,"west":-90,"east":-80.6},{"band":"100","blob":"e","hpa":335,"west":-90,"east":-90},
{"band":"100","blob":"n","hpa":10,"west":49.3,"east":89.3},{"band":"100","blob":"n","hpa":47,"west":42.6,"east":89.3},{"band":"100","blob":"n","hpa":93,"west":36.6,"east":89.3},{"band":"100","blob":"n","hpa":102,"west":36.5,"east":83.4},{"band":"100","blob":"n","hpa":182,"west":35.9,"east":79.2},{"band":"100","blob":"n","hpa":301,"west":38,"east":84.6},{"band":"100","blob":"n","hpa":341,"west":40.4,"east":84},{"band":"100","blob":"n","hpa":420,"west":44,"east":82.6},{"band":"100","blob":"n","hpa":500,"west":49.3,"east":78.9},{"band":"100","blob":"n","hpa":605,"west":56,"east":72.3},{"band":"100","blob":"n","hpa":683,"west":61.9,"east":61.9},
{"band":"110","blob":"s","hpa":90,"west":-52.4,"east":-44.2},{"band":"110","blob":"s","hpa":110,"west":-58.3,"east":-39.8},{"band":"110","blob":"s","hpa":142,"west":-63.5,"east":-36.8},{"band":"110","blob":"s","hpa":222,"west":-68.7,"east":-37},{"band":"110","blob":"s","hpa":297,"west":-72.7,"east":-38.3},{"band":"110","blob":"s","hpa":381,"west":-68.7,"east":-40.5},{"band":"110","blob":"s","hpa":460,"west":-63.5,"east":-43.5},{"band":"110","blob":"s","hpa":579,"west":-56.8,"east":-47.9},{"band":"110","blob":"s","hpa":639,"west":-51.9,"east":-51.9},
{"band":"110","blob":"n","hpa":10,"west":51.5,"east":89.3},{"band":"110","blob":"n","hpa":47,"west":45.5,"east":89.3},{"band":"110","blob":"n","hpa":82,"west":40,"east":89.3},{"band":"110","blob":"n","hpa":90,"west":39,"east":78.2},{"band":"110","blob":"n","hpa":182,"west":36.6,"east":78.6},{"band":"110","blob":"n","hpa":301,"west":39,"east":82.6},{"band":"110","blob":"n","hpa":341,"west":41.8,"east":82},{"band":"110","blob":"n","hpa":420,"west":46,"east":79.7},{"band":"110","blob":"n","hpa":500,"west":51.5,"east":76},{"band":"110","blob":"n","hpa":579,"west":55.9,"east":68},{"band":"110","blob":"n","hpa":607,"west":61.9,"east":61.9},
{"band":"120","blob":"s","hpa":98,"west":-50.9,"east":-45},{"band":"120","blob":"s","hpa":114,"west":-56,"east":-40.5},{"band":"120","blob":"s","hpa":142,"west":-60.5,"east":-38},{"band":"120","blob":"s","hpa":222,"west":-65.7,"east":-38},{"band":"120","blob":"s","hpa":301,"west":-68,"east":-39},{"band":"120","blob":"s","hpa":381,"west":-65,"east":-42},{"band":"120","blob":"s","hpa":460,"west":-59.8,"east":-45},{"band":"120","blob":"s","hpa":540,"west":-54.6,"east":-47.2},{"band":"120","blob":"s","hpa":586,"west":-50.9,"east":-50.9},
{"band":"120","blob":"n","hpa":10,"west":53.7,"east":89.3},{"band":"120","blob":"n","hpa":47,"west":49.3,"east":89.3},{"band":"120","blob":"n","hpa":78,"west":45,"east":89.3},{"band":"120","blob":"n","hpa":86,"west":43.5,"east":74.5},{"band":"120","blob":"n","hpa":102,"west":40.4,"east":72},{"band":"120","blob":"n","hpa":142,"west":39,"east":70},{"band":"120","blob":"n","hpa":182,"west":38.1,"east":76},{"band":"120","blob":"n","hpa":261,"west":38.1,"east":78},{"band":"120","blob":"n","hpa":301,"west":40,"east":79.2},{"band":"120","blob":"n","hpa":341,"west":43.3,"east":78.5},{"band":"120","blob":"n","hpa":420,"west":49,"east":74.5},{"band":"120","blob":"n","hpa":460,"west":53.7,"east":72},{"band":"120","blob":"n","hpa":500,"west":57,"east":68.5},{"band":"120","blob":"n","hpa":551,"west":61.1,"east":61.1},
{"band":"130","blob":"s","hpa":106,"west":-50.1,"east":-45.7},{"band":"130","blob":"s","hpa":122,"west":-54.6,"east":-41.2},{"band":"130","blob":"s","hpa":166,"west":-60.5,"east":-38.6},{"band":"130","blob":"s","hpa":301,"west":-64.2,"east":-40},{"band":"130","blob":"s","hpa":381,"west":-61.3,"east":-42.7},{"band":"130","blob":"s","hpa":460,"west":-56,"east":-46},{"band":"130","blob":"s","hpa":544,"west":-50.9,"east":-50.9},
{"band":"130","blob":"t","hpa":10,"west":55.2,"east":89.3},{"band":"130","blob":"t","hpa":47,"west":56.7,"east":89.3},{"band":"130","blob":"t","hpa":66,"west":58.2,"east":89.3},{"band":"130","blob":"t","hpa":74,"west":59,"east":89.3},{"band":"130","blob":"t","hpa":78,"west":59.5,"east":74.5},{"band":"130","blob":"t","hpa":102,"west":60.4,"east":65.6},{"band":"130","blob":"t","hpa":134,"west":61.9,"east":61.9},
{"band":"130","blob":"n","hpa":153,"west":60.4,"east":60.4},{"band":"130","blob":"n","hpa":182,"west":47.8,"east":68.5},{"band":"130","blob":"n","hpa":222,"west":40.4,"east":73.7},{"band":"130","blob":"n","hpa":301,"west":41.5,"east":76.7},{"band":"130","blob":"n","hpa":381,"west":50,"east":71.5},{"band":"130","blob":"n","hpa":460,"west":57.4,"east":65.6},{"band":"130","blob":"n","hpa":500,"west":61.1,"east":61.1},
{"band":"140","blob":"s","hpa":118,"west":-50.1,"east":-47.2},{"band":"140","blob":"s","hpa":142,"west":-55.3,"east":-42.7},{"band":"140","blob":"s","hpa":182,"west":-60.5,"east":-40.5},{"band":"140","blob":"s","hpa":261,"west":-62,"east":-40},{"band":"140","blob":"s","hpa":341,"west":-58.3,"east":-42},{"band":"140","blob":"s","hpa":420,"west":-54.6,"east":-45.7},{"band":"140","blob":"s","hpa":500,"west":-50.9,"east":-50.9},
{"band":"140","blob":"t","hpa":10,"west":55.9,"east":89.3},{"band":"140","blob":"t","hpa":47,"west":59.6,"east":89.3},{"band":"140","blob":"t","hpa":70,"west":62.6,"east":89.3},
{"band":"140","blob":"n","hpa":218,"west":55.2,"east":62.6},{"band":"140","blob":"n","hpa":229,"west":44.8,"east":67.8},{"band":"140","blob":"n","hpa":261,"west":41.1,"east":70.8},{"band":"140","blob":"n","hpa":301,"west":43.3,"east":73.7},{"band":"140","blob":"n","hpa":381,"west":52.2,"east":68.5},{"band":"140","blob":"n","hpa":420,"west":57.4,"east":64.8},{"band":"140","blob":"n","hpa":452,"west":61.1,"east":61.1},
{"band":"0","blob":"m","hpa":603,"west":-90,"east":-90},{"band":"0","blob":"m","hpa":604,"west":-90,"east":-88.5},{"band":"0","blob":"m","hpa":698,"west":-90,"east":-88.5},{"band":"0","blob":"m","hpa":699,"west":-90,"east":-84.3},{"band":"0","blob":"m","hpa":849,"west":-90,"east":-84.3},{"band":"0","blob":"m","hpa":850,"west":-90,"east":-83.1},{"band":"0","blob":"m","hpa":949,"west":-90,"east":-83.1},{"band":"0","blob":"m","hpa":950,"west":-90,"east":-64.9},{"band":"0","blob":"m","hpa":1000,"west":-90,"east":-64.9}
]},
"bounds":"flush","spacing":74,"resolve":{"scale":{"color":"independent"}},
"hconcat":[
{"width":1098,"height":1042,"view":{"stroke":"#111","strokeWidth":3},
"title":{"text":"NH HGT 500 RMSE","font":"Lato","fontWeight":"bold","fontSize":74,"color":"black","anchor":"middle","dx":-20,"offset":2},
"encoding":{"x":{"field":"hour","type":"quantitative","scale":{"domain":[12,252],"nice":false,"zero":false},"axis":{"values":[24,48,72,96,120,144,168,192,216,240],"title":"Forecast Time","titleFontSize":56,"titlePadding":27,"labelFontSize":38,"labelPadding":21,"tickSize":28,"tickWidth":2}},
"y":{"field":"rmse","type":"quantitative","scale":{"domain":[0,8],"nice":false,"zero":false},"axis":{"values":[0,2,4,6,8],"format":".1f","title":"RMSE","titleFontSize":54,"titlePadding":28,"labelFontSize":38,"labelPadding":32,"tickSize":28,"tickWidth":2}},
"color":{"field":"series","type":"nominal","legend":null,"scale":{"domain":["v3.6_COLD","v3.6_ENSMEAN","v3.6_KIMfcst","cold note","ensmean note","kim note","plain note"],"range":["#1a16cf","#2f8f3e","#e0222c","#0000cc","#00b050","#ff0000","#000000"]}}},
"layer":[
{"data":{"name":"noteBox"},"mark":{"type":"rect","color":"#e2efda"},"encoding":{"x2":{"field":"hour2"},"y2":{"field":"rmse2"},"color":{"value":"#e2efda"}}},
{"data":{"name":"rmse"},"mark":{"type":"line","strokeWidth":4.5}},
{"data":{"name":"legendRows"},"mark":{"type":"rule","strokeWidth":4.5},"encoding":{"x2":{"field":"hour2"}}},
{"data":{"name":"legendThin"},"mark":{"type":"rule","strokeWidth":2},"encoding":{"x2":{"field":"hour2"}}},
{"data":{"name":"legendText"},"mark":{"type":"text","align":"left","baseline":"middle","fontSize":38,"font":"Liberation Sans","color":"#222"},"encoding":{"text":{"field":"label"},"color":{"value":"#222222"}}},
{"data":{"name":"arrows"},"mark":{"type":"rule","strokeWidth":5},"encoding":{"x2":{"field":"hour2"},"y2":{"field":"rmse2"}}},
{"data":{"name":"arrows"},"mark":{"type":"point","shape":"triangle-up","filled":true,"size":420,"opacity":1},"encoding":{"x":{"field":"tipHour","type":"quantitative"},"y":{"field":"tipRmse","type":"quantitative"},"angle":{"field":"heading","type":"quantitative","scale":null}}},
{"data":{"name":"notes"},"mark":{"type":"text","align":"left","baseline":"middle","font":"Lato","fontWeight":"bold","fontSize":41},"encoding":{"text":{"field":"label"}}}
]},
{"title":{"text":"+10D zonal mean HGT RMSE","font":"Lato","fontWeight":"bold","fontSize":77,"color":"black","anchor":"middle","dx":48,"offset":11},
"bounds":"flush","spacing":0,
"vconcat":[
{"width":1339,"height":20,"data":{"values":[{}]},"mark":{"type":"text"},"encoding":{}},
{"bounds":"flush","spacing":0,"hconcat":[
{"width":13,"height":556,"data":{"values":[{}]},"mark":{"type":"text"},"encoding":{}},
{"width":556,"height":556,"view":{"stroke":"#111","strokeWidth":2.5,"fill":"white"},"resolve":{"axis":{"x":"independent","y":"independent"}},
"encoding":{"x":{"field":"west","type":"quantitative","scale":{"domain":[-90,90],"nice":false,"zero":false},"axis":{"values":[-90,-60,-30,0,30,60,90],"labelExpr":"datum.value==0?'EQ':abs(datum.value)+(datum.value<0?'S':'N')","labelFontSize":22,"labelPadding":6,"tickSize":7,"tickWidth":1.5,"title":"mean =\u00a0\u00a080.117, min =\u00a0\u00a0\u00a00.013, max = 959.770","titleFontSize":27,"titlePadding":32}},
"y":{"field":"hpa","type":"quantitative","scale":{"domain":[10,1000],"reverse":true,"nice":false,"zero":false},"axis":{"values":[10,50,100,150,200,300,400,500,700,850,925,1000],"format":"d","labelFontSize":22,"labelPadding":6,"tickSize":7,"tickWidth":1.5,"title":null}}},
"layer":[
{"data":{"name":"single"},"mark":{"type":"area","orient":"horizontal","interpolate":"monotone","clip":true},"encoding":{"x2":{"field":"east"},"detail":{"field":"blob"},"color":{"field":"band","type":"nominal","legend":null,"scale":{"domain":["0","5","20","30","40","50","60","70","80","90","100","110","120","130","140"],"range":["#ffffff","#cceaf9","#9bd7f5","#72b4e1","#4a8ecc","#4ea08f","#47b04a","#9ccb54","#f3e55c","#f8ab42","#f57a2b","#e64c27","#d5232a","#b71c22","#951619"]}}}},
{"data":{"name":"singleLabel"},"mark":{"type":"text","font":"Lato","fontWeight":"bold","fontSize":40,"color":"black"},"encoding":{"x":{"field":"lat","type":"quantitative","axis":null},"y":{"field":"hpa","type":"quantitative","axis":null},"text":{"field":"label"}}},
{"data":{"name":"tickAnchor"},"mark":{"type":"point","opacity":0},"encoding":{"x":{"field":"west","type":"quantitative","axis":{"orient":"top","values":[-90,-60,-30,0,30,60,90],"labels":false,"tickSize":-5,"tickWidth":1.5,"title":null}},"y":{"field":"hpa","type":"quantitative","axis":{"orient":"right","values":[10,50,100,150,200,300,400,500,700,850,925,1000],"labels":false,"tickSize":-5,"tickWidth":1.5,"title":null}}}}
]},
{"width":10,"height":556,"data":{"values":[{}]},"mark":{"type":"text"},"encoding":{}},
{"width":17,"height":556,"data":{"name":"colorbar"},"mark":{"type":"rect","stroke":"#777","strokeWidth":1},
"encoding":{"y":{"field":"lo","type":"quantitative","scale":{"domain":[-0.05,15.11],"nice":false,"zero":false},"axis":{"orient":"right","values":[1,2,3,4,5,6,7,8,9,10,11,12,13,14],"labelExpr":"datum.value==1?'5':''+datum.value*10","title":null,"tickSize":0,"labelFontSize":22,"labelPadding":19,"labelAlign":"center"}},"y2":{"field":"hi"},"color":{"field":"band","type":"nominal","legend":null,"scale":{"domain":["0","5","20","30","40","50","60","70","80","90","100","110","120","130","140"],"range":["#ffffff","#cceaf9","#9bd7f5","#72b4e1","#4a8ecc","#4ea08f","#47b04a","#9ccb54","#f3e55c","#f8ab42","#f57a2b","#e64c27","#d5232a","#b71c22","#951619"]}}}},
{"width":114,"height":556,"data":{"values":[{}]},"mark":{"type":"text"},"encoding":{}},
{"width":556,"height":556,"view":{"stroke":"#111","strokeWidth":2.5,"fill":"white"},"resolve":{"axis":{"x":"independent","y":"independent"}},
"encoding":{"x":{"field":"west","type":"quantitative","scale":{"domain":[-90,90],"nice":false,"zero":false},"axis":{"values":[-90,-60,-30,0,30,60,90],"labelExpr":"datum.value==0?'EQ':abs(datum.value)+(datum.value<0?'S':'N')","labelFontSize":22,"labelPadding":6,"tickSize":7,"tickWidth":1.5,"title":"mean =\u00a0\u00a073.988, min =\u00a0\u00a0\u00a00.054, max = 927.406","titleFontSize":27,"titlePadding":32}},
"y":{"field":"hpa","type":"quantitative","scale":{"domain":[10,1000],"reverse":true,"nice":false,"zero":false},"axis":{"values":[10,50,100,150,200,300,400,500,700,850,925,1000],"format":"d","labelFontSize":22,"labelPadding":6,"tickSize":7,"tickWidth":1.5,"title":null}}},
"layer":[
{"data":{"name":"ens"},"mark":{"type":"area","orient":"horizontal","interpolate":"monotone","clip":true},"encoding":{"x2":{"field":"east"},"detail":{"field":"blob"},"color":{"field":"band","type":"nominal","legend":null,"scale":{"domain":["0","5","20","30","40","50","60","70","80","90","100","110","120","130","140"],"range":["#ffffff","#cceaf9","#9bd7f5","#72b4e1","#4a8ecc","#4ea08f","#47b04a","#9ccb54","#f3e55c","#f8ab42","#f57a2b","#e64c27","#d5232a","#b71c22","#951619"]}}}},
{"data":{"name":"ensLabel"},"mark":{"type":"text","font":"Lato","fontWeight":"bold","fontSize":41,"color":"black"},"encoding":{"x":{"field":"lat","type":"quantitative","axis":null},"y":{"field":"hpa","type":"quantitative","axis":null},"text":{"field":"label"}}},
{"data":{"name":"tickAnchor"},"mark":{"type":"point","opacity":0},"encoding":{"x":{"field":"west","type":"quantitative","axis":{"orient":"top","values":[-90,-60,-30,0,30,60,90],"labels":false,"tickSize":-5,"tickWidth":1.5,"title":null}},"y":{"field":"hpa","type":"quantitative","axis":{"orient":"right","values":[10,50,100,150,200,300,400,500,700,850,925,1000],"labels":false,"tickSize":-5,"tickWidth":1.5,"title":null}}}}
]},
{"width":11,"height":556,"data":{"values":[{}]},"mark":{"type":"text"},"encoding":{}},
{"width":17,"height":556,"data":{"name":"colorbar"},"mark":{"type":"rect","stroke":"#777","strokeWidth":1},
"encoding":{"y":{"field":"lo","type":"quantitative","scale":{"domain":[-0.05,15.11],"nice":false,"zero":false},"axis":{"orient":"right","values":[1,2,3,4,5,6,7,8,9,10,11,12,13,14],"labelExpr":"datum.value==1?'5':''+datum.value*10","title":null,"tickSize":0,"labelFontSize":22,"labelPadding":19,"labelAlign":"center"}},"y2":{"field":"hi"},"color":{"field":"band","type":"nominal","legend":null,"scale":{"domain":["0","5","20","30","40","50","60","70","80","90","100","110","120","130","140"],"range":["#ffffff","#cceaf9","#9bd7f5","#72b4e1","#4a8ecc","#4ea08f","#47b04a","#9ccb54","#f3e55c","#f8ab42","#f57a2b","#e64c27","#d5232a","#b71c22","#951619"]}}}}
]},
{"width":1339,"height":705,"data":{"values":[{}]},"mark":{"type":"text"},"encoding":{}},
{"width":1339,"height":340,"view":{"fill":"#dce6f2","stroke":null},"data":{"name":"summary"},"mark":{"type":"text","align":"left","baseline":"middle","font":"Lato","fontWeight":"bold","fontSize":66,"color":"#3f55a0"},
"encoding":{"x":{"field":"col","type":"quantitative","axis":null,"scale":{"domain":[-20,1319],"nice":false,"zero":false}},"y":{"field":"line","type":"quantitative","axis":null,"scale":{"domain":[0.25,3.55],"reverse":true,"nice":false,"zero":false}},"text":{"field":"label"}}}
]}
]}
